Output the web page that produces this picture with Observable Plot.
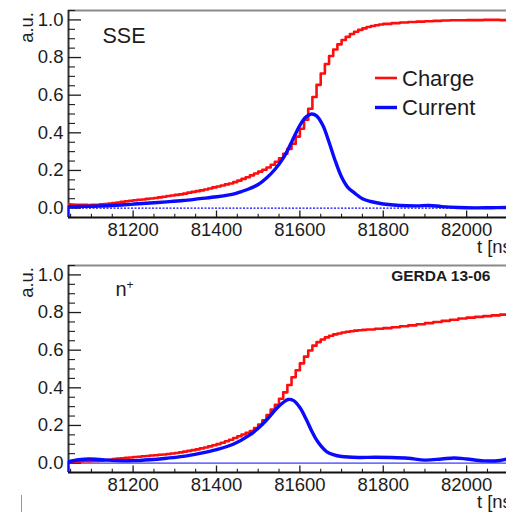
<!DOCTYPE html>
<html>
<head>
<meta charset="utf-8">
<script src="https://cdn.jsdelivr.net/npm/d3@7"></script>
<script src="https://cdn.jsdelivr.net/npm/@observablehq/plot@0.6"></script>
<style>
  html, body { margin: 0; padding: 0; background: #fff; overflow: hidden; width: 506px; height: 512px; }
  #wrap { position: relative; width: 506px; height: 512px; overflow: hidden; }
  #wrap svg { display: block; max-width: none !important; }
  #mark { position: absolute; left: 21px; top: 495px; width: 1px; height: 17px; background: #999; }
</style>
</head>
<body>
<div id="wrap"><div id="mark"></div></div>
<script>
// ---------- data ----------
const xTickLabels = [81200, 81400, 81600, 81800, 82000];
const yTickLabels = [0.0, 0.2, 0.4, 0.6, 0.8, 1.0];
const seriesNames = ["Charge", "Current"];
const panelLabels = ["SSE", "n", "+"];
const tagText = "GERDA 13-06";

// charge sampled in 10 ns bins up to 81790 (top) / 81750 (bottom), 20 ns after
const sseChargeFine = [
  0.020, 0.019, 0.018, 0.017, 0.017, 0.016, 0.017, 0.018, 0.020, 0.022,
  0.024, 0.027, 0.030, 0.033, 0.036, 0.039, 0.042, 0.044, 0.046, 0.049,
  0.051, 0.054, 0.057, 0.060, 0.064, 0.067, 0.070, 0.073, 0.077, 0.082,
  0.086, 0.090, 0.094, 0.099, 0.104, 0.110, 0.115, 0.120, 0.126, 0.131,
  0.138, 0.146, 0.155, 0.164, 0.174, 0.184, 0.194, 0.204, 0.216, 0.230,
  0.246, 0.265, 0.289, 0.314, 0.342, 0.380, 0.422, 0.470, 0.528, 0.590,
  0.655, 0.715, 0.766, 0.808, 0.843, 0.870, 0.893, 0.910, 0.925, 0.937,
  0.947, 0.955, 0.962, 0.968, 0.972, 0.976];
const sseChargeTail = [
  0.979, 0.983, 0.986, 0.989, 0.991, 0.993, 0.995, 0.997, 0.998, 0.998,
  0.999, 0.999, 1.000, 1.000, 0.999, 1.000, 1.000];
const sseCurrentT = [81045, 81080, 81120, 81160, 81200, 81240, 81280, 81320, 81360, 81400,
  81440, 81460, 81480, 81500, 81520, 81540, 81560, 81580, 81600, 81615, 81628, 81640,
  81655, 81670, 81685, 81700, 81715, 81730, 81750, 81770, 81800, 81840, 81880, 81910,
  81940, 81980, 82020, 82060, 82100, 82122];
const sseCurrentV = [0.008, 0.009, 0.011, 0.015, 0.021, 0.027, 0.033, 0.040, 0.050, 0.060,
  0.074, 0.088, 0.104, 0.125, 0.160, 0.205, 0.265, 0.350, 0.440, 0.485, 0.500, 0.490,
  0.440, 0.350, 0.250, 0.165, 0.110, 0.082, 0.050, 0.035, 0.022, 0.014, 0.012, 0.014,
  0.008, 0.003, 0.001, 0.002, 0.003, 0.003];

const nplusChargeFine = [
  0.008, 0.008, 0.009, 0.009, 0.010, 0.010, 0.011, 0.012, 0.013, 0.015,
  0.018, 0.021, 0.024, 0.026, 0.028, 0.030, 0.032, 0.034, 0.036, 0.038,
  0.040, 0.042, 0.044, 0.046, 0.048, 0.051, 0.054, 0.057, 0.061, 0.065,
  0.069, 0.073, 0.078, 0.083, 0.089, 0.095, 0.101, 0.108, 0.116, 0.124,
  0.133, 0.143, 0.152, 0.161, 0.170, 0.186, 0.205, 0.228, 0.255, 0.285,
  0.310, 0.342, 0.376, 0.415, 0.456, 0.493, 0.530, 0.566, 0.598, 0.624,
  0.643, 0.657, 0.668, 0.677, 0.684, 0.689, 0.694, 0.698, 0.701, 0.704,
  0.706, 0.708];
const nplusChargeTail = [
  0.710, 0.714, 0.717, 0.722, 0.727, 0.732, 0.738, 0.744, 0.750, 0.756,
  0.762, 0.768, 0.773, 0.777, 0.781, 0.785, 0.789, 0.792, 0.795];
const nplusCurrentT = [81045, 81070, 81095, 81120, 81160, 81200, 81240, 81280, 81320, 81360,
  81400, 81440, 81480, 81500, 81520, 81544, 81560, 81572, 81585, 81600, 81616, 81628,
  81640, 81652, 81664, 81680, 81700, 81740, 81780, 81820, 81860, 81900, 81940, 81970,
  82000, 82040, 82080, 82100, 82122];
const nplusCurrentV = [0.008, 0.018, 0.022, 0.019, 0.014, 0.013, 0.018, 0.026, 0.036, 0.052,
  0.072, 0.100, 0.150, 0.185, 0.229, 0.290, 0.322, 0.338, 0.332, 0.295, 0.229, 0.172,
  0.123, 0.087, 0.061, 0.045, 0.035, 0.030, 0.031, 0.030, 0.026, 0.016, 0.022, 0.027,
  0.022, 0.012, 0.014, 0.022, 0.022];

// ---------- helpers ----------
const X_DOMAIN = [81045, 82122];
const Y_DOMAIN = [-0.05, 1.05];
const RED = "#ff0d0d", BLUE = "#0a0aff", INK = "#1c1c1c";
const FONT = "'Liberation Sans', Arial, Helvetica, sans-serif";

function chargeRows(fine, tail, fineStart, tailStart) {
  const rows = fine.map((v, i) => ({t: fineStart + 10 * i, v}));
  tail.forEach((v, i) => rows.push({t: tailStart + 20 * i, v}));
  rows.push({t: tailStart + 20 * tail.length, v: tail[tail.length - 1]});
  return rows;
}

function panel({height, charge, curT, curV, zeroDash, legend, labels}) {
  const W = 527, mL = 68, mR = 10, mT = 10, frameH = 207;
  const plotW = W - mL - mR;
  const current = curT.map((t, i) => ({t, v: curV[i]}));
  const xMinor = d3.range(81050, 82121, 50).filter(d => !xTickLabels.includes(d));
  const yMinor = d3.range(-5, 106, 5).map(d => d / 100).filter(d => !yTickLabels.some(y => Math.abs(y - d) < 1e-9));
  const marks = [
    Plot.ruleY([Y_DOMAIN[1]], {stroke: "#8a8a8a", strokeWidth: 2}),
    Plot.ruleX([X_DOMAIN[0]], {stroke: "#333", strokeWidth: 2}),
    Plot.tickX(xTickLabels, {x: d => d, insetTop: frameH - 6.5, stroke: INK, strokeWidth: 1.3}),
    Plot.tickX(xMinor, {x: d => d, insetTop: frameH - 3.3, stroke: INK, strokeWidth: 1.1}),
    Plot.tickY(yTickLabels, {y: d => d, insetRight: plotW - 13, stroke: INK, strokeWidth: 1.3}),
    Plot.tickY(yMinor, {y: d => d, insetRight: plotW - 7, stroke: INK, strokeWidth: 1.1}),
    Plot.axisX(xTickLabels, {tickSize: 0, tickPadding: 5, tickFormat: d3.format("d"), label: null, fontSize: 18.5, fill: INK}),
    Plot.axisY(yTickLabels, {tickSize: 0, tickPadding: 5, tickFormat: d => d.toFixed(1), label: null, fontSize: 18.5, fill: INK}),
    Plot.ruleY([0], {stroke: BLUE, strokeWidth: zeroDash ? 1.3 : 1, strokeDasharray: zeroDash ? "2,1.5" : null}),
    Plot.ruleX([curT[0]], {y1: Y_DOMAIN[0], y2: curV[0], stroke: BLUE, strokeWidth: 2}),
    Plot.line(charge, {x: "t", y: "v", curve: "step-after", stroke: RED, strokeWidth: 2.6, clip: true}),
    Plot.line(current, {x: "t", y: "v", curve: "catmull-rom", stroke: BLUE, strokeWidth: 3.4, clip: true}),
    Plot.ruleY([Y_DOMAIN[0]], {stroke: "#111", strokeWidth: 2.2}),
    ...labels
  ];
  // axis titles and legend drawn in pixel space of the panel
  marks.push(() => {
    const g = d3.create("svg:g").attr("font-family", FONT).attr("fill", INK).attr("text-anchor", "start");
    g.append("text").attr("transform", `translate(${mL - 41},${mT + 2}) rotate(-90)`)
      .attr("text-anchor", "end").attr("dy", "0.34em").attr("font-size", 18.5).text("a.u.");
    g.append("text").attr("x", W - mR).attr("y", mT + frameH + 36).attr("text-anchor", "end")
      .attr("font-size", 18.5).text("t [ns]");
    if (legend) {
      const items = [{name: seriesNames[0], color: RED, w: 2.6, y: 78}, {name: seriesNames[1], color: BLUE, w: 3.4, y: 107.5}];
      for (const it of items) {
        g.append("line").attr("x1", 375).attr("x2", 397).attr("y1", it.y).attr("y2", it.y)
          .attr("stroke", it.color).attr("stroke-width", it.w);
        g.append("text").attr("x", 402).attr("y", it.y).attr("dy", "0.36em").attr("font-size", 22).text(it.name);
      }
    }
    return g.node();
  });
  return Plot.plot({
    width: W, height, marginLeft: mL, marginRight: mR, marginTop: mT, marginBottom: height - mT - frameH,
    x: {domain: X_DOMAIN, axis: null},
    y: {domain: Y_DOMAIN, axis: null},
    style: {fontFamily: FONT, fontSize: "18.5px", color: INK, background: "#fff", overflow: "visible", maxWidth: "none"},
    marks
  });
}

const wrapEl = document.getElementById("wrap");

const topPanel = panel({
  height: 255,
  charge: chargeRows(sseChargeFine, sseChargeTail, 81040, 81800),
  curT: sseCurrentT, curV: sseCurrentV,
  zeroDash: true, legend: true,
  labels: [
    Plot.text([panelLabels[0]], {frameAnchor: "top-left", dx: 34, dy: 32, textAnchor: "start", lineAnchor: "bottom", fontSize: 21.5, fill: INK})
  ]
});
const bottomPanel = panel({
  height: 257,
  charge: chargeRows(nplusChargeFine, nplusChargeTail, 81040, 81760),
  curT: nplusCurrentT, curV: nplusCurrentV,
  zeroDash: false, legend: false,
  labels: [
    Plot.text([panelLabels[1]], {frameAnchor: "top-left", dx: 47, dy: 30, textAnchor: "start", lineAnchor: "bottom", fontSize: 20, fill: INK}),
    Plot.text([panelLabels[2]], {frameAnchor: "top-left", dx: 58, dy: 23, textAnchor: "start", lineAnchor: "bottom", fontSize: 12, fill: INK}),
    Plot.text([tagText], {frameAnchor: "top-left", dx: 422, dy: 15, textAnchor: "end", lineAnchor: "bottom", fontSize: 15.5, fontWeight: "bold", fill: INK})
  ]
});
wrapEl.insertBefore(topPanel, wrapEl.firstChild);
wrapEl.insertBefore(bottomPanel, document.getElementById("mark"));
</script>
</body>
</html>
